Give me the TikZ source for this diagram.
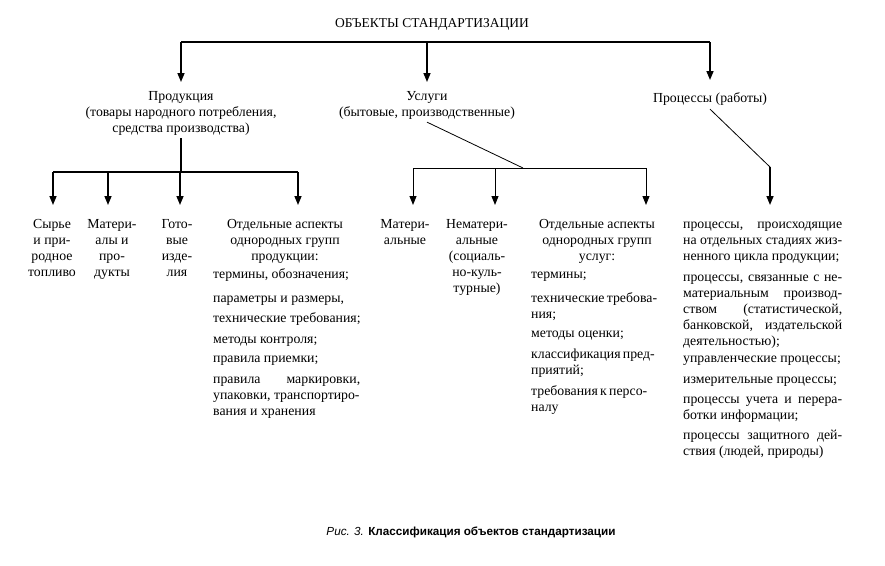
\documentclass[tikz,border=0pt]{standalone}
\usepackage{fontspec}
\setmainfont{Liberation Serif}
\setsansfont{Liberation Sans}
\usetikzlibrary{arrows.meta}
\newcommand{\LJ}[1]{\makebox[147pt][s]{#1}}
\newcommand{\MJ}[1]{\makebox[116pt][s]{#1}}
\newcommand{\RJ}[1]{\makebox[159pt][s]{#1}}
\newcommand{\CenterLines}[1]{\vtop{\baselineskip=16pt\halign{\hfil##\hfil\cr#1\crcr}}}
\newcommand{\LeftLines}[1]{\vtop{\baselineskip=16pt\halign{##\hfil\cr#1\crcr}}}
\begin{document}
\begin{tikzpicture}[x=1pt,y=-1pt,
  txt/.style={inner sep=0pt, font=\fontsize{13.8}{16}\selectfont},
  cb/.style={txt, anchor=base},
  lb/.style={txt, anchor=base west},
  tree/.style={line width=1.5pt},
  treethin/.style={line width=1pt},
  arr/.style={-{Triangle[width=7pt,length=9pt]}},
  diag/.style={line width=0.8pt}]
\useasboundingbox (0,0) rectangle (885,565);

% title
\node[cb, font=\fontsize{13.5}{16}\selectfont] (title) at (432,27) {ОБЪЕКТЫ СТАНДАРТИЗАЦИИ};

% level 1
\node[cb] (prod) at (181,100) {\CenterLines{Продукция\cr(товары народного потребления,\cr средства производства)}};
\node[cb] (usl) at (427,100) {\CenterLines{Услуги\cr(бытовые, производственные)}};
\node[cb] (proc) at (710,102) {Процессы (работы)};

\coordinate (T1) at (181,42);
\coordinate (T2) at (427,42);
\coordinate (T3) at (710,42);
\draw[tree] (T1) -- (T3);
\draw[tree,arr] (T1) -- ([yshift=18pt]T1 |- prod.base);
\draw[tree,arr] (T2) -- ([yshift=18pt]T2 |- usl.base);
\draw[tree,arr] (T3) -- ([yshift=22pt]T3 |- proc.base);

% products branch
\node[cb] (syr) at (52,228) {\CenterLines{Сырье\cr и при-\cr родное\cr топливо}};
\node[cb] (mat) at (112,228) {\CenterLines{Матери-\cr алы и\cr про-\cr дукты}};
\node[cb] (got) at (177,228) {\CenterLines{Гото-\cr вые\cr изде-\cr лия}};
\node[cb] (asp1) at (285,228) {\CenterLines{Отдельные аспекты\cr однородных групп\cr продукции:}};

\coordinate (P0) at (181,172);
\coordinate (P1) at (53,172);
\coordinate (P2) at (108,172);
\coordinate (P3) at (180,172);
\coordinate (P4) at (298,172);
\draw[tree] ([yshift=-3pt]prod.south) -- (P0);
\draw[tree] (P1) -- (P4);
\draw[tree,arr] (P1) -- ([yshift=23pt]P1 |- syr.base);
\draw[tree,arr] (P2) -- ([yshift=23pt]P2 |- mat.base);
\draw[tree,arr] (P3) -- ([yshift=23pt]P3 |- got.base);
\draw[tree,arr] (P4) -- ([yshift=23pt]P4 |- asp1.base);

\node[lb] (l1) at (213,278) {термины, обозначения;};
\node[lb] (l2) at (213,302) {параметры и размеры,};
\node[lb] (l3) at (213,322) {технические требования;};
\node[lb] (l4) at (213,343) {методы контроля;};
\node[lb] (l5) at (213,362) {правила приемки;};
\node[lb] (l6) at (213,383) {\LeftLines{\LJ{правила маркировки,}\cr упаковки, транспортиро-\cr вания и хранения}};

% services branch
\node[cb] (mat2) at (405,228) {\CenterLines{Матери-\cr альные}};
\node[cb] (nemat) at (477,228) {\CenterLines{Нематери-\cr альные\cr (социаль-\cr но-куль-\cr турные)}};
\node[cb] (asp2) at (597,228) {\CenterLines{Отдельные аспекты\cr однородных групп\cr услуг:}};

\coordinate (U0) at (523,168);
\coordinate (U1) at (413,168);
\coordinate (U2) at (495,168);
\coordinate (U3) at (646,168);
\draw[diag] ([yshift=-3pt]usl.south) -- (U0);
\draw[treethin] (U1) -- (U3);
\draw[treethin,arr] (U1) -- ([yshift=23pt]U1 |- mat2.base);
\draw[treethin,arr] (U2) -- ([yshift=23pt]U2 |- nemat.base);
\draw[treethin,arr] (U3) -- ([yshift=23pt]U3 |- asp2.base);

\node[lb] (m1) at (531,278) {термины;};
\node[lb] (m2) at (531,302) {\LeftLines{\MJ{технические требова-}\cr ния;}};
\node[lb] (m3) at (531,337) {методы оценки;};
\node[lb] (m4) at (531,358) {\LeftLines{\MJ{классификация пред-}\cr приятий;}};
\node[lb] (m5) at (531,395) {\LeftLines{\MJ{требования к персо-}\cr налу}};

% processes branch
\coordinate (R0) at (770,167);
\node[lb] (r1) at (683,228) {\LeftLines{\RJ{процессы, происходящие}\cr\RJ{на отдельных стадиях жиз-}\cr ненного цикла продукции;}};
\draw[diag] ([yshift=-4pt]proc.south) -- (R0);
\draw[tree,arr] (R0) -- ([yshift=23pt]R0 |- r1.base);
\node[lb] (r2) at (683,281) {\LeftLines{\RJ{процессы, связанные с не-}\cr\RJ{материальным производ-}\cr\RJ{ством (статистической,}\cr\RJ{банковской, издательской}\cr деятельностью);}};
\node[lb] (r3) at (683,362) {управленческие процессы;};
\node[lb] (r4) at (683,383) {измерительные процессы;};
\node[lb] (r5) at (683,403) {\LeftLines{\RJ{процессы учета и перера-}\cr ботки информации;}};
\node[lb] (r6) at (683,439) {\LeftLines{\RJ{процессы защитного дей-}\cr ствия (людей, природы)}};

% caption
\node[inner sep=0pt, anchor=base, font=\sffamily\fontsize{11.7}{14}\selectfont] (cap) at (471,535)
  {\textit{Рис. 3.} \textbf{Классификация объектов стандартизации}};
\end{tikzpicture}
\end{document}
